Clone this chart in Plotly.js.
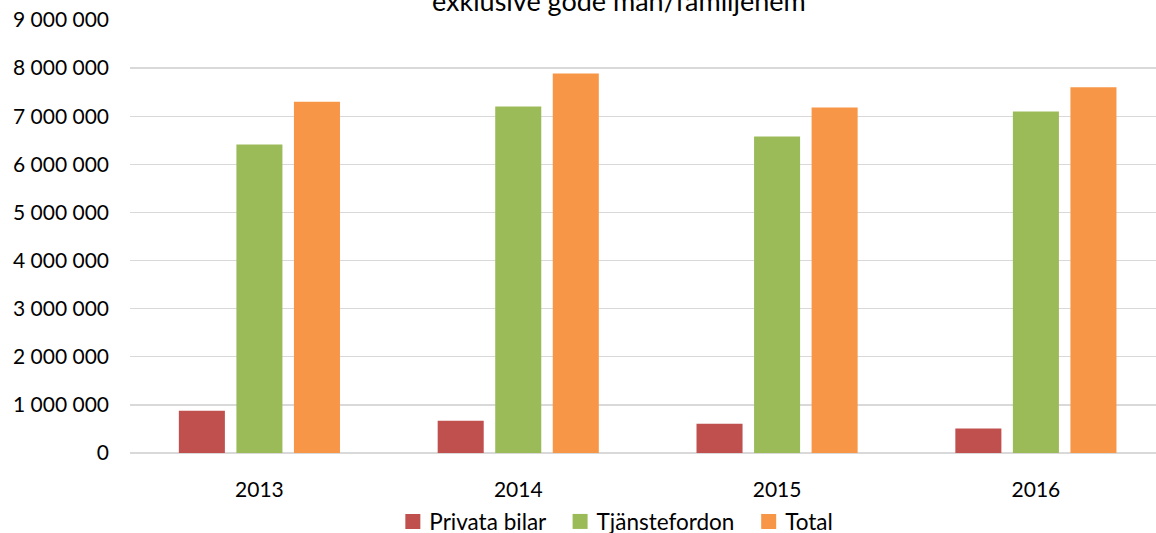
<!DOCTYPE html>
<html>
<head>
<meta charset="utf-8">
<script src="https://cdn.plot.ly/plotly-3.0.1.min.js"></script>
<style>html,body{margin:0;padding:0;background:#fff;}#chart{width:1156px;height:533px;}</style>
</head>
<body>
<div id="chart"></div>
<script>
const years = ["2013", "2014", "2015", "2016"];
const privataBilar = [880000, 670000, 610000, 510000];
const tjanstefordon = [6410000, 7200000, 6580000, 7100000];
const total = [7300000, 7890000, 7180000, 7600000];
const seriesNames = ["Privata bilar", "Tjänstefordon", "Total"];
const yTickVals = [0, 1000000, 2000000, 3000000, 4000000, 5000000, 6000000, 7000000, 8000000, 9000000];
const yTickText = ["0", "1 000 000", "2 000 000", "3 000 000", "4 000 000", "5 000 000", "6 000 000", "7 000 000", "8 000 000", "9 000 000"];
const titleText = "exklusive gode man/familjehem";

const FONT = "Lato, 'Open Sans', sans-serif";
const colors = ["#C0504D", "#9BBB59", "#F79646"];
const pad = "\u00a0";
const data = [privataBilar, tjanstefordon, total].map((vals, i) => ({
  type: "bar",
  name: seriesNames[i] + (i < 2 ? pad : ""),
  x: years,
  y: vals,
  marker: {color: colors[i]},
  hoverinfo: "skip"
}));

const layout = {
  width: 1156,
  height: 533,
  margin: {l: 130, r: 0, t: 20, b: 80},
  paper_bgcolor: "#fff",
  plot_bgcolor: "#fff",
  font: {family: FONT, size: 21, color: "#000"},
  barmode: "group",
  bargap: 0.333,
  bargroupgap: 0.2,
  showlegend: true,
  legend: {
    orientation: "h",
    xref: "container", yref: "container",
    x: 0.531, xanchor: "center",
    y: 0.021, yanchor: "middle",
    font: {family: FONT, size: 22.5, color: "#000"},
    itemwidth: 30,
    traceorder: "normal"
  },
  xaxis: {
    type: "category",
    range: [-0.5, 3.464],
    showgrid: false,
    showline: false,
    zeroline: false,
    ticks: "",
    ticklabelstandoff: 22,
    tickfont: {family: FONT, size: 21, color: "#000"},
    fixedrange: true
  },
  yaxis: {
    range: [0, 9000000],
    tickvals: yTickVals,
    ticktext: yTickText,
    showgrid: true,
    gridcolor: "#D9D9D9",
    gridwidth: 1.3,
    zeroline: true,
    zerolinecolor: "#D9D9D9",
    zerolinewidth: 1.3,
    showline: false,
    ticks: "",
    ticklabelstandoff: 20,
    tickfont: {family: FONT, size: 21, color: "#000"},
    fixedrange: true
  },
  annotations: [{
    text: titleText,
    xref: "paper", yref: "paper",
    x: (619 - 130) / (1156 - 130), y: 1,
    xanchor: "center", yanchor: "middle",
    yshift: 20,
    showarrow: false,
    font: {family: FONT, size: 27, color: "#000"}
  }]
};

Plotly.newPlot("chart", data, layout, {displayModeBar: false, staticPlot: true}).then(() => {
  document.querySelectorAll("#chart .legendpoints path").forEach(p => {
    const t = p.getAttribute("transform") || "";
    p.setAttribute("transform", t + " translate(3.5,0) scale(1.25)");
  });
});
</script>
</body>
</html>
